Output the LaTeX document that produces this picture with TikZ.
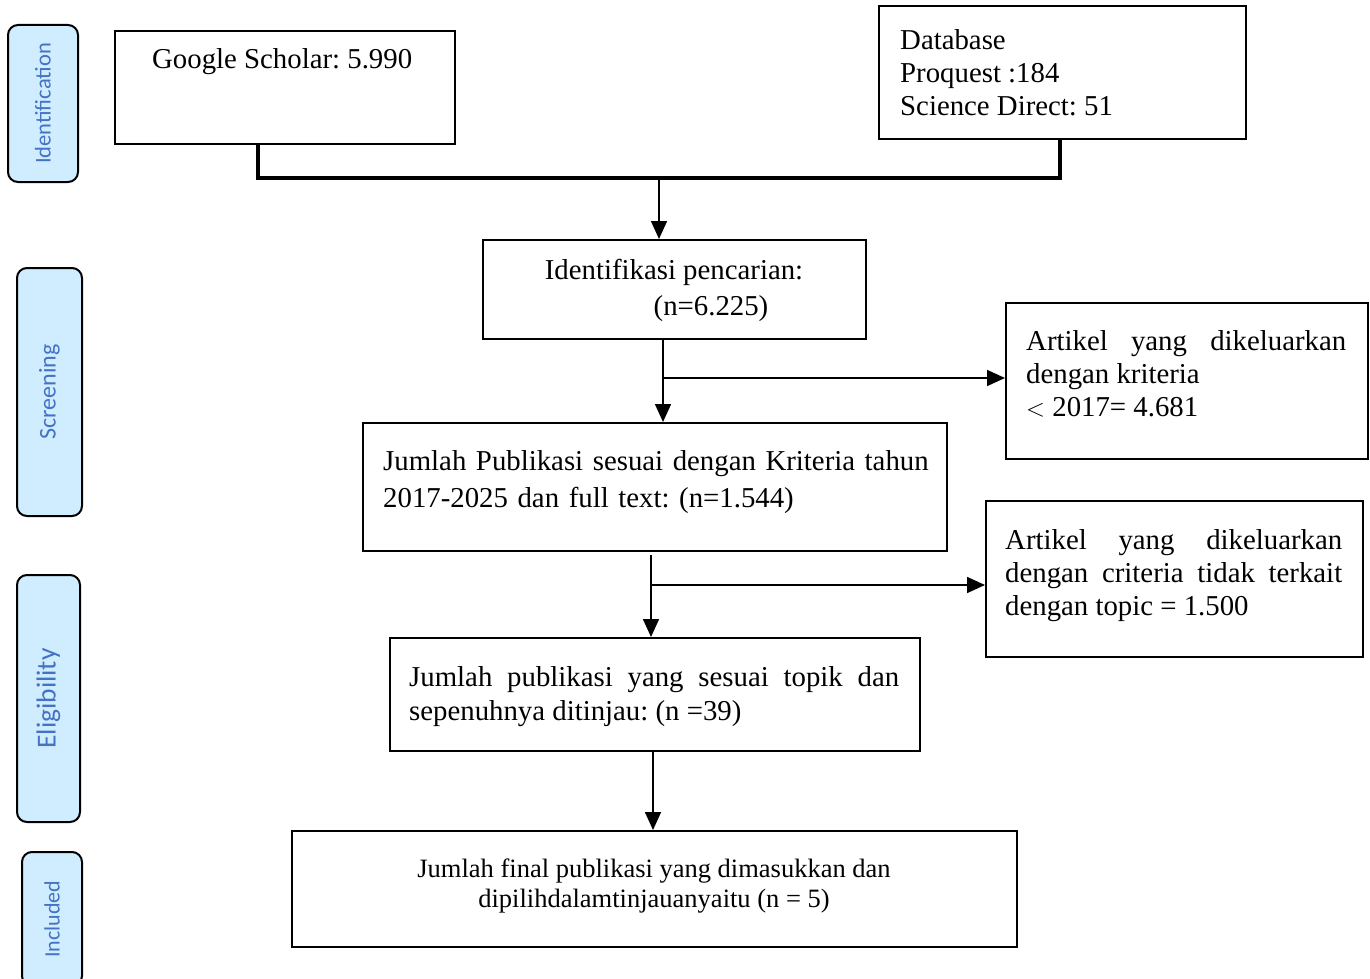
\documentclass[tikz,border=0pt]{standalone}
\usepackage{fontspec}
\setmainfont{Liberation Serif}
\newfontfamily\sidefont{Carlito}
\usetikzlibrary{arrows.meta}
\frenchspacing

\definecolor{sideblue}{RGB}{208,236,255}
\definecolor{sidetext}{RGB}{68,114,196}

\tikzset{
  box/.style={draw, line width=2pt, inner sep=0pt, anchor=north west},
  txt/.style={inner sep=0pt, font=\fontsize{28.8}{33}\selectfont},
  side/.style={draw, line width=2pt, rounded corners=10pt, fill=sideblue,
    inner sep=0pt, text=sidetext, rotate=90},
  arr/.style={line width=1.6pt, -{Triangle[width=16pt,length=18pt]}},
  bracket/.style={line width=4.5pt},
}

\begin{document}
\begin{tikzpicture}[x=1pt, y=-1pt]
  \useasboundingbox (0,0) rectangle (1370,979);

  % phase labels
  \node[side, minimum width=157pt, minimum height=70pt,
        font=\sidefont\fontsize{22.5}{26}\selectfont] (idl) at (43,103.5) {Identification};
  \node[side, minimum width=248pt, minimum height=65pt,
        font=\sidefont\fontsize{24}{28}\selectfont] (scr) at (49.5,392) {Screening};
  \node[side, minimum width=247pt, minimum height=63pt,
        font=\sidefont\fontsize{27.5}{31}\selectfont] (elg) at (48.5,698.5) {Eligibility};
  \node[side, minimum width=134pt, minimum height=60pt,
        font=\sidefont\fontsize{22}{26}\selectfont] (inc) at (52,919) {Included};

  % boxes
  \node[box, minimum width=340pt, minimum height=113pt] (gs)   at (114,30)  {};
  \node[box, minimum width=367pt, minimum height=133pt] (db)   at (878,5)   {};
  \node[box, minimum width=383pt, minimum height=99pt]  (idf)  at (482,239) {};
  \node[box, minimum width=362pt, minimum height=156pt] (exa)  at (1005,302) {};
  \node[box, minimum width=584pt, minimum height=128pt] (pub)  at (362,422) {};
  \node[box, minimum width=377pt, minimum height=156pt] (exb)  at (985,500) {};
  \node[box, minimum width=530pt, minimum height=113pt] (top)  at (389,637) {};
  \node[box, minimum width=725pt, minimum height=116pt] (fin)  at (291,830) {};

  % texts
  \node[txt, anchor=base west] (gs-t) at (152,69) {Google Scholar: 5.990};
  \node[txt, anchor=north west, align=left] (db-t) at (900,29.5)
    {Database\\Proquest :184\\Science Direct: 51};
  \node[txt, anchor=base] (idf-t) at (674,279) {Identifikasi pencarian:};
  \node[txt, anchor=base] (idf-n) at (711,315) {(n=6.225)};
  \node[txt, anchor=north west, text width=320pt, align=justify] (exa-t) at (1026,330.5)
    {Artikel yang dikeluarkan\linebreak dengan kriteria\\$<$ 2017= 4.681};
  \node[txt, anchor=north west, text width=548pt, align=left,
        font=\fontsize{28.8}{37}\selectfont] (pub-t) at (383,450.5)
    {Jumlah Publikasi sesuai dengan Kriteria tahun\\2017-2025 dan full text: (n=1.544)};
  \node[txt, anchor=north west, text width=337pt, align=justify] (exb-t) at (1005,529.5)
    {Artikel yang dikeluarkan\linebreak dengan criteria tidak terkait\linebreak dengan topic = 1.500};
  \node[txt, anchor=north west, text width=490pt, align=justify,
        font=\fontsize{28.8}{34}\selectfont] (top-t) at (409,666.5)
    {Jumlah publikasi yang sesuai topik dan\linebreak sepenuhnya ditinjau: (n =39)};
  \node[txt, anchor=north, align=center,
        font=\fontsize{26.5}{30}\selectfont] (fin-t) at (654,858.5)
    {Jumlah final publikasi yang dimasukkan dan\\dipilihdalamtinjauanyaitu (n = 5)};

  % joining bracket
  \coordinate (jl) at (258,178);
  \coordinate (jr) at (1060,178);
  \coordinate (jm) at (659,178);
  \draw[bracket] (gs.south -| jl) -- (jl) -- (jr) -- (db.south -| jr);
  \draw[arr] (jm) -- (idf.north -| jm);

  % screening
  \coordinate (sa) at (663,338);
  \coordinate (sb) at (663,378);
  \draw[arr] (sa) -- (pub.north -| sa);
  \draw[arr] (sb) -- (sb -| exa.west);

  % eligibility
  \coordinate (ea) at (651,555);
  \coordinate (eb) at (651,585);
  \draw[arr] (ea) -- (top.north -| ea);
  \draw[arr] (eb) -- (eb -| exb.west);

  % included
  \coordinate (ia) at (653,750);
  \draw[arr] (ia) -- (fin.north -| ia);
\end{tikzpicture}
\end{document}
